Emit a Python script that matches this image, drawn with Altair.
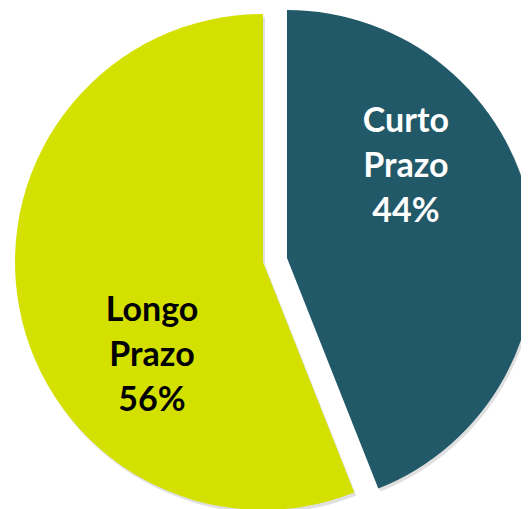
import altair as alt
import pandas as pd

categorias = ["Curto Prazo", "Longo Prazo"]
valores = [44, 56]
ordem = [0, 1]

df = pd.DataFrame({"categoria": categorias, "valor": valores, "ordem": ordem})

TEAL = "#225968"
YELLOW = "#d4e100"
R = 248
FONT = "Lato"

base = (
    alt.Chart(df)
    .transform_joinaggregate(total="sum(valor)")
    .transform_stack(stack="valor", groupby=[], as_=["v0", "v1"], sort=[alt.SortField("ordem")])
    .transform_calculate(
        a0="datum.v0 / datum.total * 2 * PI",
        a1="datum.v1 / datum.total * 2 * PI",
        amid="(datum.v0 + datum.v1) / 2 / datum.total * 2 * PI",
        rotulo="split(datum.categoria + ' ' + datum.valor + '%', ' ')",
    )
)


def slice_layers(cat, cx, cy, color, text_color, lab_r, lab_dy):
    b = base.transform_filter(alt.datum.categoria == cat)
    shadow = b.mark_arc(radius=R, color="#000000", opacity=0.12).encode(
        theta=alt.Theta("a0:Q", scale=None),
        theta2="a1:Q",
        x=alt.value(cx + 2),
        y=alt.value(cy + 3),
    )
    arc = b.mark_arc(radius=R, color=color).encode(
        theta=alt.Theta("a0:Q", scale=None),
        theta2="a1:Q",
        x=alt.value(cx),
        y=alt.value(cy),
    )
    txt = b.mark_text(
        font=FONT,
        fontSize=34,
        fontWeight="bold",
        lineHeight=45,
        color=text_color,
        align="center",
        baseline="middle",
        dy=lab_dy,
    ).encode(
        theta=alt.Theta("amid:Q", scale=None),
        radius=alt.value(lab_r),
        x=alt.value(cx),
        y=alt.value(cy),
        text="rotulo:N",
    )
    return shadow, arc, txt


s1, a1, t1 = slice_layers("Curto Prazo", 279, 250, TEAL, "#ffffff", 121, -113)
s2, a2, t2 = slice_layers("Longo Prazo", 255, 254, YELLOW, "#000000", 113, 28)

chart = (
    alt.layer(s2, s1, a2, a1, t2, t1)
    .properties(width=513, height=501, padding=0, autosize=alt.AutoSizeParams(type="none"))
    .configure_view(stroke=None)
)

chart.save("out.html", embed_options={"renderer": "svg", "actions": False})
